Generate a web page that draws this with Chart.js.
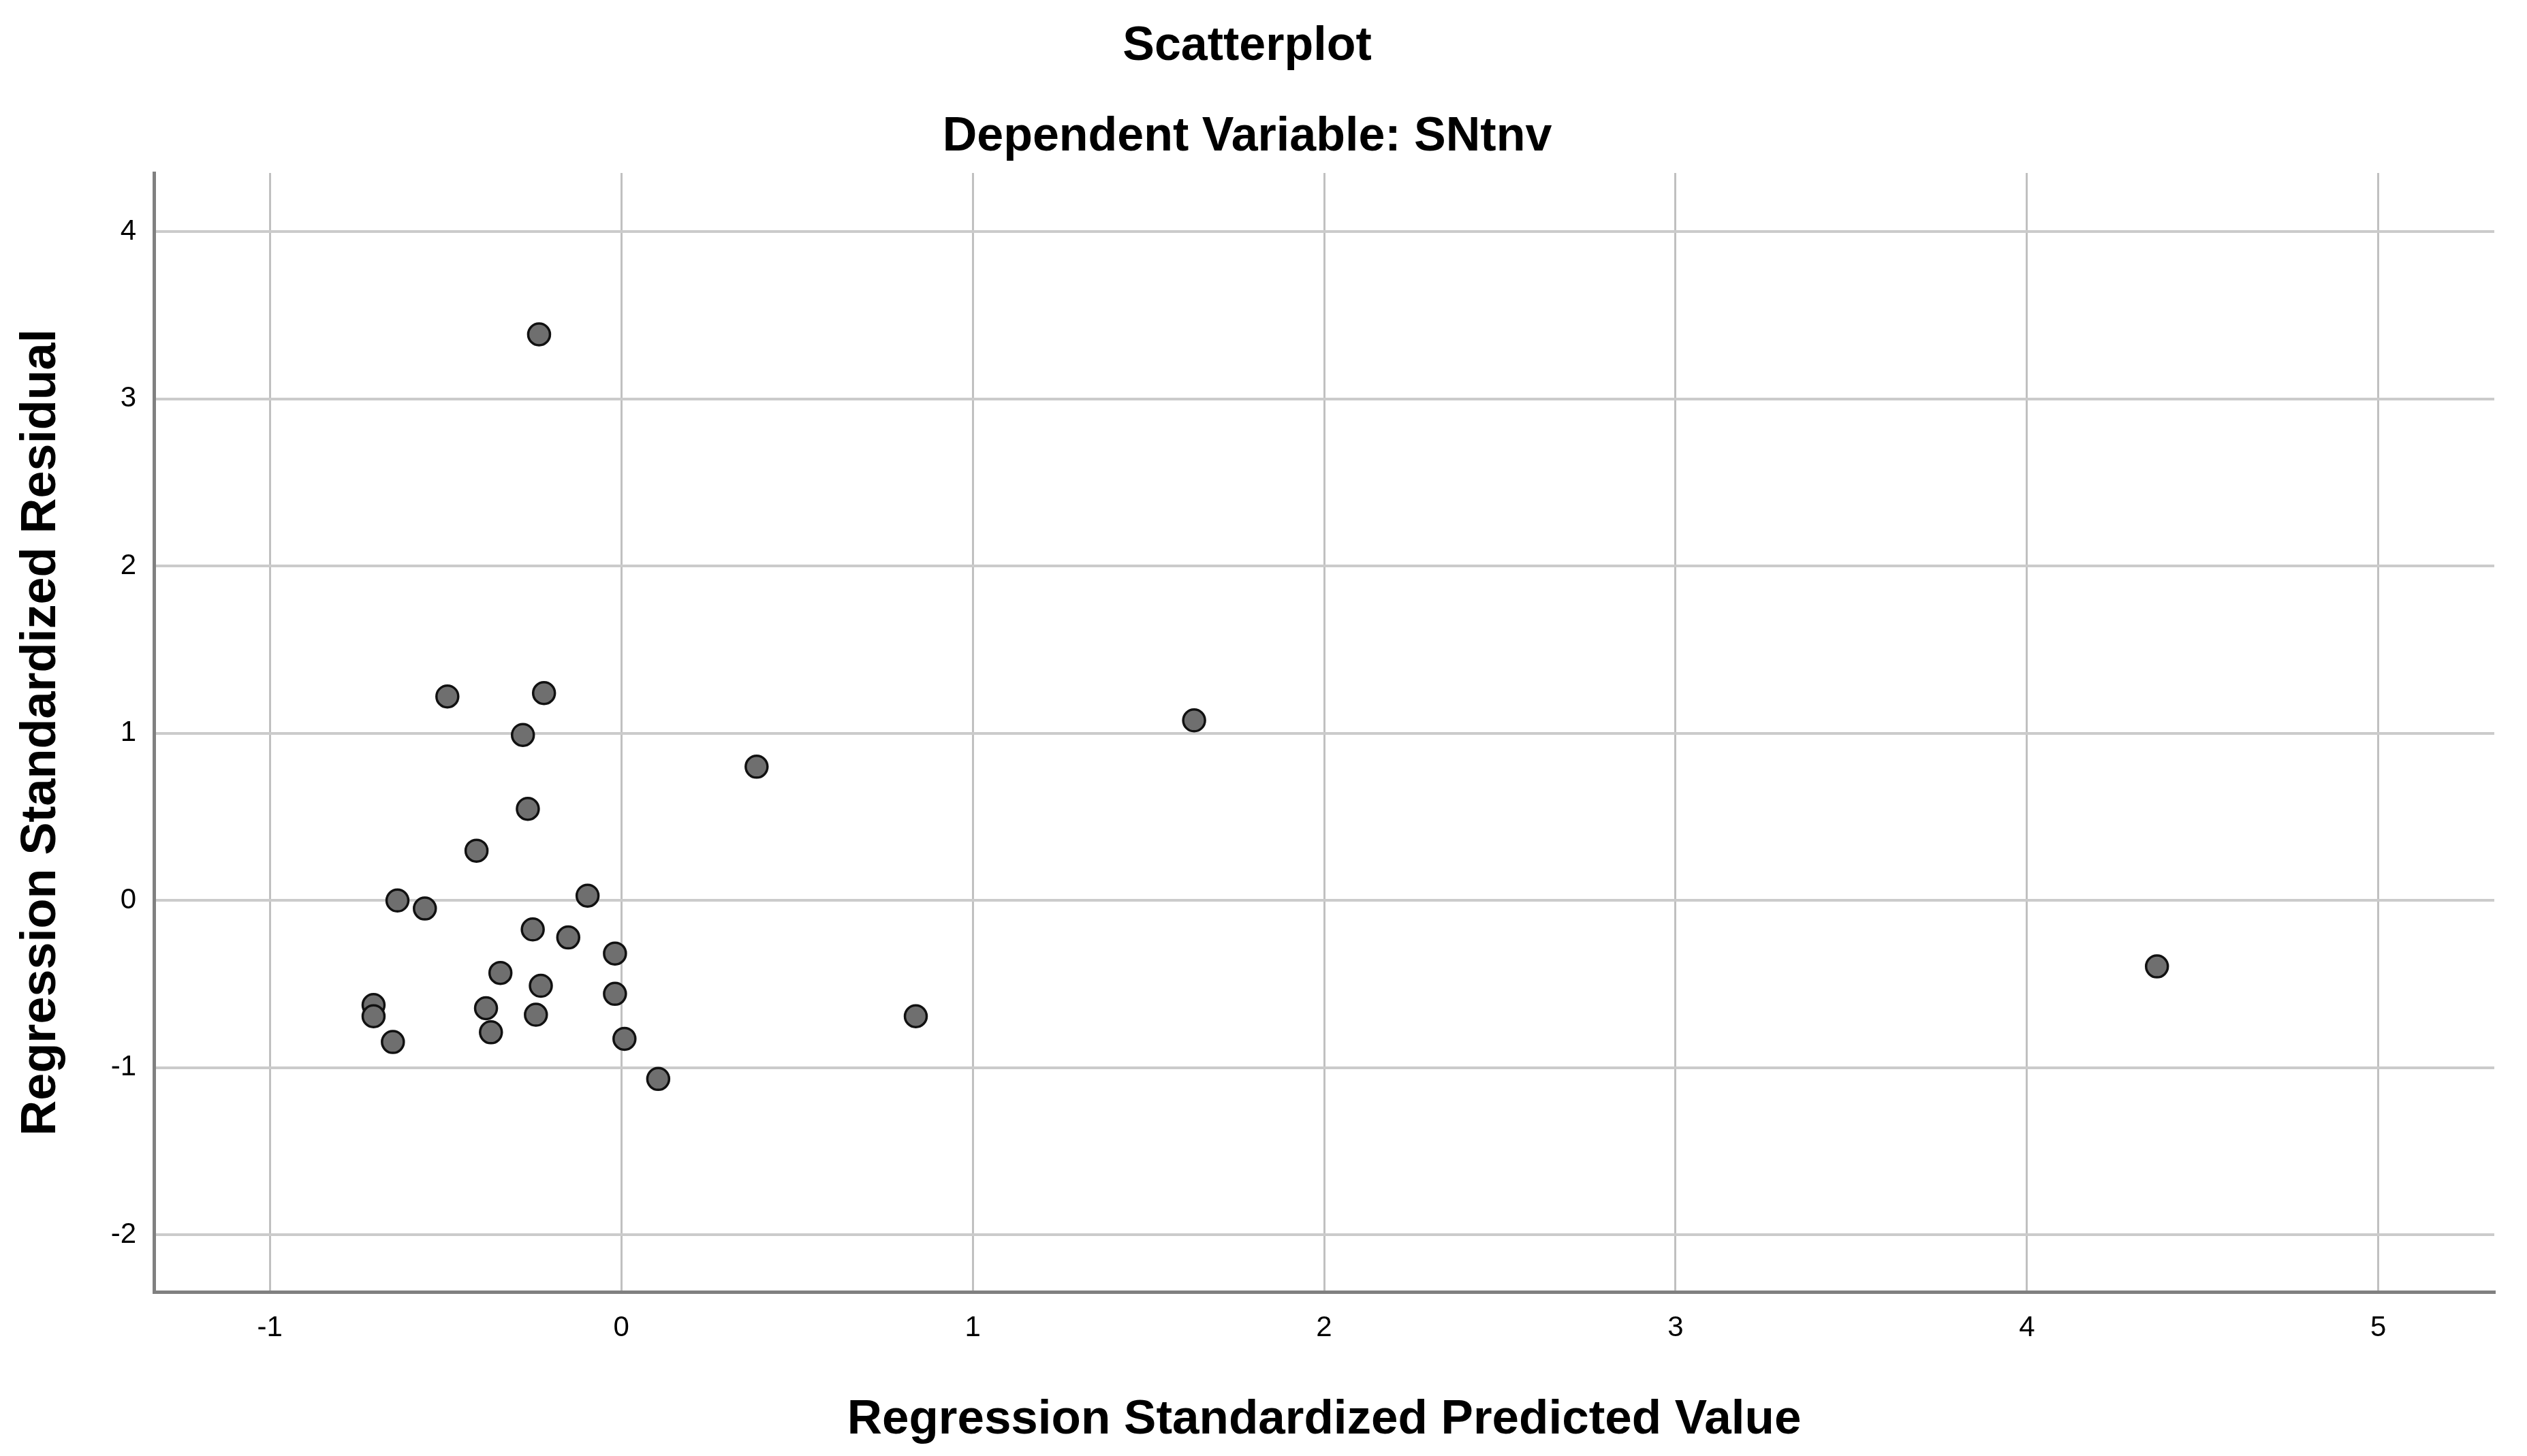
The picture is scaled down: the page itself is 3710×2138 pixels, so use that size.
<!DOCTYPE html>
<html lang="en">
<head>
  <meta charset="UTF-8" />
  <title>Scatterplot</title>
  <style>
    body { margin: 0; background: #ffffff; }
    #wrap { width: 3710px; height: 2138px; }
  </style>
</head>
<body>
  <div id="wrap">
    <canvas id="scatter" width="3710" height="2138"></canvas>
  </div>

  <script src="https://cdn.jsdelivr.net/npm/chart.js"></script>
  <script>
    // values
    const predicted = [-0.234, -0.495, -0.22, -0.28, 1.63, 0.385, -0.266, -0.412, -0.637, -0.559,
                       -0.096, -0.252, -0.151, -0.018, -0.344, -0.229, -0.018, -0.705, -0.705, -0.385,
                       -0.243, 0.838, -0.371, 0.009, -0.65, 0.105, 4.37];
    const residuals = [3.385, 1.22, 1.24, 0.99, 1.077, 0.80, 0.548, 0.298, 0.0, -0.048,
                       0.029, -0.173, -0.221, -0.317, -0.433, -0.51, -0.558, -0.625, -0.692, -0.644,
                       -0.683, -0.692, -0.788, -0.827, -0.846, -1.067, -0.394];
    const xRange = [-1.33, 5.33];
    const yRange = [-2.34, 4.35];

    const points = predicted.map((x, i) => ({ x: x, y: residuals[i] }));
    const fontFam = "'Liberation Sans', Arial, sans-serif";

    new Chart(document.getElementById("scatter"), {
      type: "scatter",
      data: {
        datasets: [{
          data: points,
          backgroundColor: "#6f6f6f",
          borderColor: "#111111",
          borderWidth: 3.5,
          pointRadius: 16,
          pointHoverRadius: 16
        }]
      },
      options: {
        responsive: false,
        devicePixelRatio: 1,
        animation: false,
        layout: { padding: { left: 0, right: 48, top: 0, bottom: 0 } },
        plugins: {
          legend: { display: false },
          tooltip: { enabled: false },
          title: {
            display: true,
            text: "Scatterplot",
            color: "#000",
            font: { family: fontFam, size: 70, weight: "bold" },
            padding: { top: 27, bottom: 49 }
          },
          subtitle: {
            display: true,
            text: "Dependent Variable: SNtnv",
            color: "#000",
            font: { family: fontFam, size: 70, weight: "bold" },
            padding: { top: 0, bottom: 10 }
          }
        },
        scales: {
          x: {
            type: "linear",
            min: xRange[0],
            max: xRange[1],
            afterFit: s => { s.height = 241; },
            ticks: {
              stepSize: 1,
              includeBounds: false,
              color: "#000",
              padding: 28,
              font: { family: fontFam, size: 42 }
            },
            grid: { color: "#c0c0c0", lineWidth: 3, drawTicks: false },
            border: { color: "#808080", width: 5 },
            title: {
              display: true,
              text: "Regression Standardized Predicted Value",
              color: "#000",
              font: { family: fontFam, size: 71, weight: "bold" },
              padding: { top: 0, bottom: 10 }
            }
          },
          y: {
            type: "linear",
            min: yRange[0],
            max: yRange[1],
            afterFit: s => { s.width = 226; },
            ticks: {
              stepSize: 1,
              includeBounds: false,
              color: "#000",
              padding: 26,
              font: { family: fontFam, size: 42 }
            },
            grid: { color: "#cbcbcb", lineWidth: 4, drawTicks: false },
            border: { color: "#808080", width: 5 },
            title: {
              display: true,
              text: "Regression Standardized Residual",
              color: "#000",
              font: { family: fontFam, size: 72, weight: "bold" },
              padding: { top: 18, bottom: 0 }
            }
          }
        }
      }
    });
  </script>
</body>
</html>
